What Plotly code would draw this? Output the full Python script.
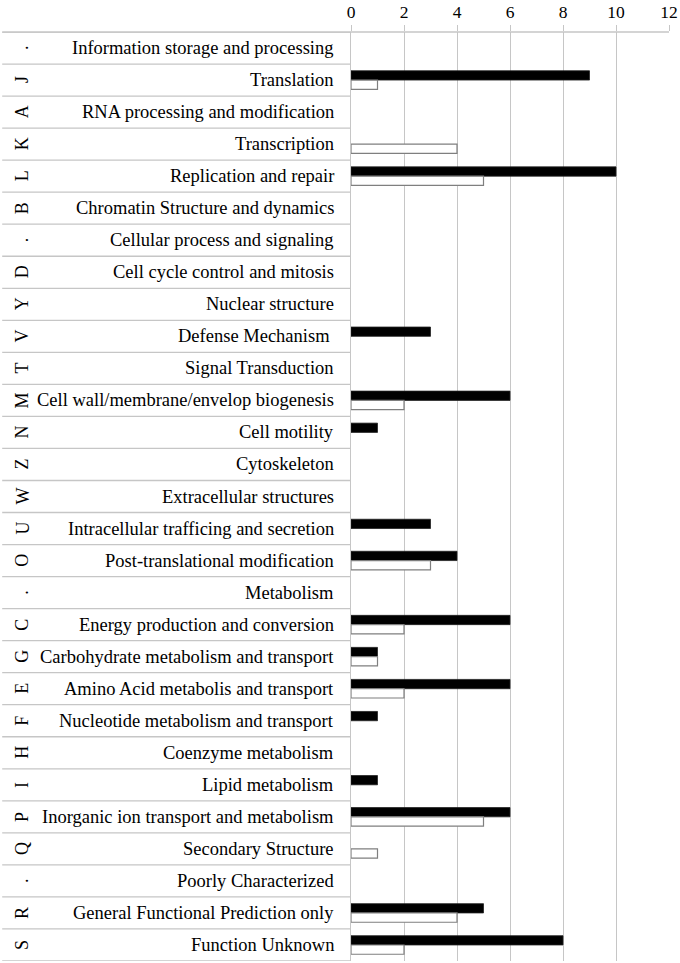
import plotly.graph_objects as go

codes = [".", "J", "A", "K", "L", "B", ".", "D", "Y", "V", "T", "M", "N", "Z", "W",
         "U", "O", ".", "C", "G", "E", "F", "H", "I", "P", "Q", ".", "R", "S"]
categories = [
    "Information storage and processing", "Translation", "RNA processing and modification",
    "Transcription", "Replication and repair", "Chromatin Structure and dynamics",
    "Cellular process and signaling", "Cell cycle control and mitosis", "Nuclear structure",
    "Defense Mechanism ", "Signal Transduction", "Cell wall/membrane/envelop biogenesis",
    "Cell motility", "Cytoskeleton", "Extracellular structures",
    "Intracellular trafficing and secretion", "Post-translational modification", "Metabolism",
    "Energy production and conversion", "Carbohydrate metabolism and transport",
    "Amino Acid metabolis and transport", "Nucleotide metabolism and transport",
    "Coenzyme metabolism", "Lipid metabolism", "Inorganic ion transport and metabolism",
    "Secondary Structure", "Poorly Characterized", "General Functional Prediction only",
    "Function Unknown",
]
series_black = [0, 9, 0, 0, 10, 0, 0, 0, 0, 3, 0, 6, 1, 0, 0, 3, 4, 0, 6, 1, 6, 1, 0, 1, 6, 0, 0, 5, 8]
series_white = [0, 1, 0, 4, 5, 0, 0, 0, 0, 0, 0, 2, 0, 0, 0, 0, 3, 0, 2, 1, 2, 0, 0, 0, 5, 1, 0, 4, 2]
x_ticks = [0, 2, 4, 6, 8, 10, 12]

W, H = 680, 963
L, R, T, B = 351, 9, 29, 2
pw = W - L - R
FONT = "Liberation Serif, Times New Roman, serif"
GRID = "#c6c6c6"

idx = list(range(len(categories)))
nz = lambda v: [None if x == 0 else x for x in v]

fig = go.Figure()
fig.add_trace(go.Bar(y=idx, x=nz(series_black), orientation="h",
                     marker=dict(color="black", line=dict(color="#222222", width=0.8)),
                     showlegend=False, hoverinfo="skip"))
fig.add_trace(go.Bar(y=idx, x=nz(series_white), orientation="h",
                     marker=dict(color="white", line=dict(color="#7f7f7f", width=1.2)),
                     showlegend=False, hoverinfo="skip"))

def px2paper(px):
    return (px - L) / pw

annotations = []
for i, (c, name) in enumerate(zip(codes, categories)):
    annotations.append(dict(x=px2paper(20), y=i, xref="paper", yref="y", text=c,
                            showarrow=False, textangle=-90, xanchor="center", yanchor="middle",
                            font=dict(family=FONT, size=18, color="black")))
    annotations.append(dict(x=px2paper(336), y=i, xref="paper", yref="y", text=name,
                            showarrow=False, xanchor="right", yanchor="middle",
                            font=dict(family=FONT, size=18.5, color="black")))

shapes = []
for i in range(len(categories) + 1):
    shapes.append(dict(type="line", xref="paper", yref="y", x0=px2paper(0), x1=0,
                       y0=i - 0.5, y1=i - 0.5, line=dict(color=GRID, width=1.3)))
shapes.append(dict(type="line", xref="paper", yref="paper", x0=px2paper(0), x1=1,
                   y0=1, y1=1, line=dict(color=GRID, width=1.3)))

fig.update_layout(
    width=W, height=H,
    margin=dict(l=L, r=R, t=T, b=B, pad=0),
    paper_bgcolor="white", plot_bgcolor="white",
    barmode="group", bargap=0.42, bargroupgap=0,
    font=dict(family=FONT, size=17, color="black"),
    annotations=annotations, shapes=shapes,
    xaxis=dict(side="top", range=[0, 12], tickvals=x_ticks, showgrid=True,
               gridcolor=GRID, gridwidth=1.3, zeroline=False, ticks="outside",
               ticklen=6, tickcolor=GRID, tickwidth=1.3, showline=False,
               tickfont=dict(family=FONT, size=17.5, color="black")),
    yaxis=dict(range=[len(categories) - 0.5, -0.5], showticklabels=False, showgrid=False,
               zeroline=False, showline=True, linecolor=GRID, linewidth=1.3, ticks=""),
)

fig.write_html("out.html", config={"displayModeBar": False},
               post_script="document.body.style.margin='0';document.body.style.overflow='hidden';")
